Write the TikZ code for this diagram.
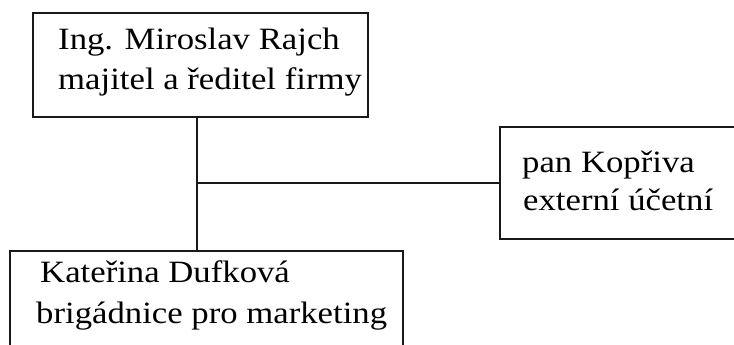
\documentclass[tikz,border=0pt]{standalone}
\usepackage{fontspec}
\usepackage{graphicx}
\setmainfont{Liberation Serif}
\newcommand{\wtxt}[1]{\scalebox{1.12}[1]{#1}}
\begin{document}
\begin{tikzpicture}[x=1pt,y=-1pt,
  box/.style={draw=black!90, line width=1.6pt, rectangle, inner sep=0pt},
  lbl/.style={anchor=base west, inner sep=0pt, font=\fontsize{31}{38}\selectfont},
  conn/.style={draw=black!90, line width=1.6pt}]
\useasboundingbox (0,0) rectangle (734,345);
\clip (0,0) rectangle (734,345);
\fill[white] (0,0) rectangle (734,345);
% boxes
\node[box, minimum width=335pt, minimum height=104pt] (top) at (200.5,65) {};
\node[box, minimum width=250pt, minimum height=112pt, anchor=west] (right) at (499,183) {};
\node[box, minimum width=393pt, minimum height=110pt, anchor=north west] (bottom) at (9,250) {};
% texts
\node[lbl] (t1) at (58,50) {\wtxt{Ing. Miroslav Rajch}};
\node[lbl] (t2) at (58,90) {\wtxt{majitel a ředitel firmy}};
\node[lbl] (r1) at (522,172) {\wtxt{pan Kopřiva}};
\node[lbl] (r2) at (523,210) {\wtxt{externí účetní}};
\node[lbl] (b1) at (40,282) {\wtxt{Kateřina Dufková}};
\node[lbl] (b2) at (36,323) {\wtxt{brigádnice pro marketing}};
% connectors
\coordinate (junc) at (197,183);
\draw[conn] (junc |- top.south) -- (junc |- bottom.north);
\draw[conn] (junc) -- (right.west);
\end{tikzpicture}
\end{document}
